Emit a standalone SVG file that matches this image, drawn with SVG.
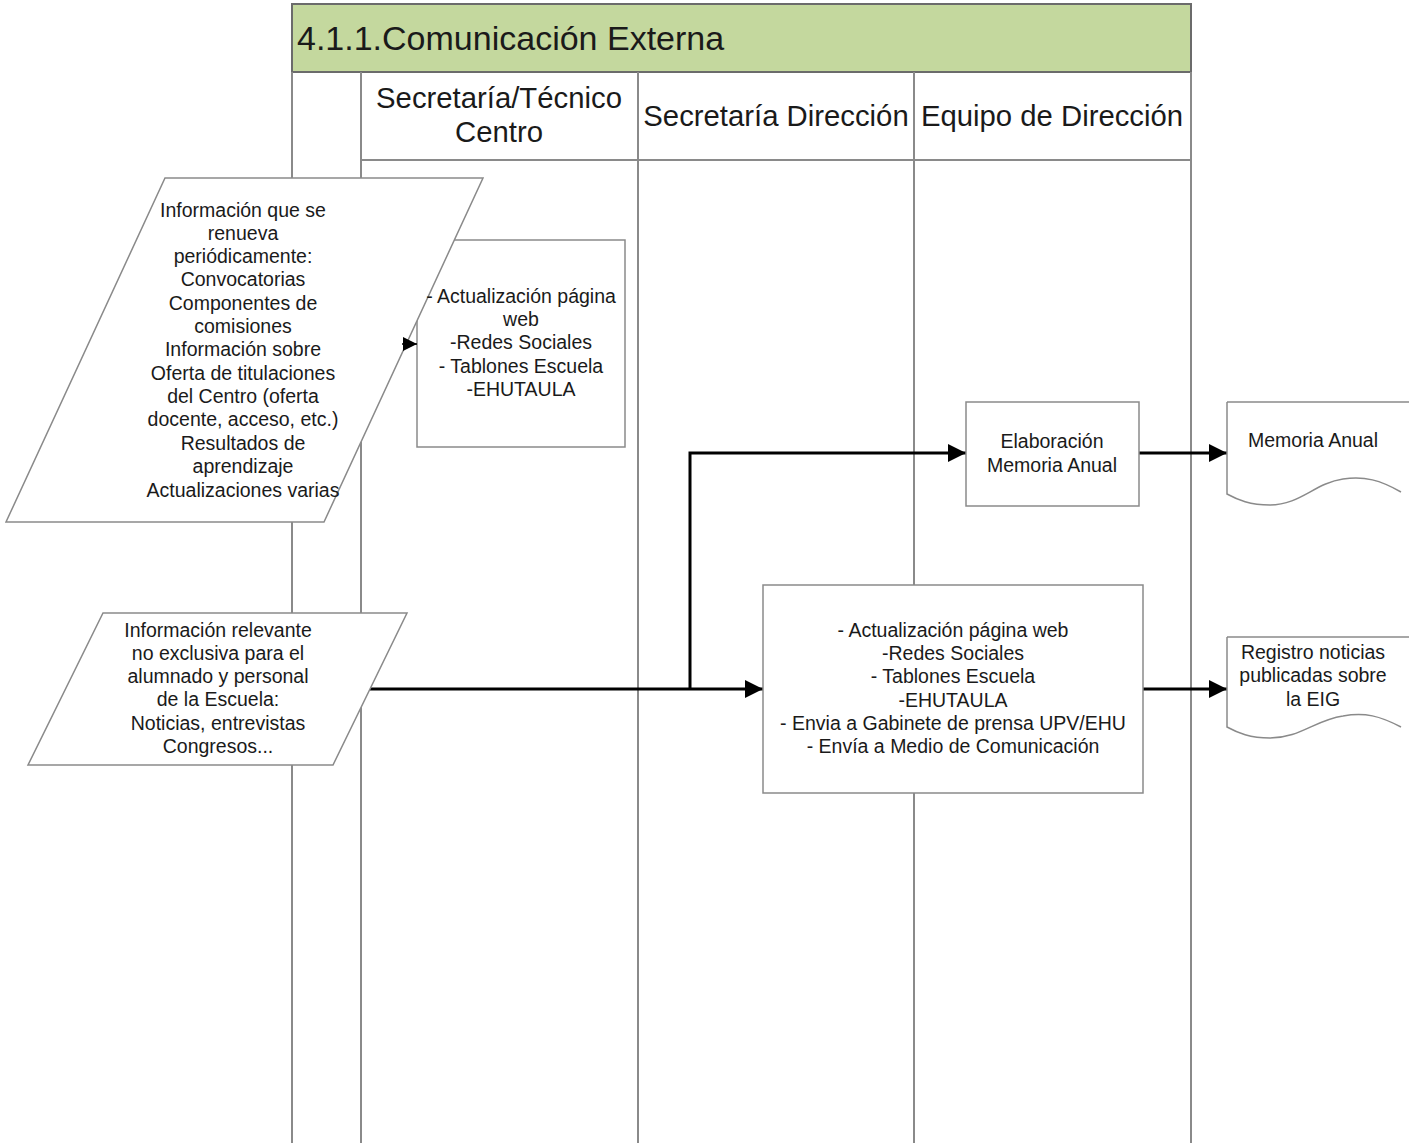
<svg xmlns="http://www.w3.org/2000/svg" width="1409" height="1143" viewBox="0 0 1409 1143">
<defs>
<style>
.lane{stroke:#8a8a8a;stroke-width:2;fill:none}
.shape{fill:#fff;stroke:#8a8a8a;stroke-width:1.5}
.t{font-family:"Liberation Sans",Arial,sans-serif;font-size:19.5px;fill:#1a1a1a;text-anchor:middle}
.h{font-family:"Liberation Sans",Arial,sans-serif;font-size:29.3px;fill:#1a1a1a;text-anchor:middle}
.conn{stroke:#000;stroke-width:3;fill:none}
</style>
<marker id="arr" viewBox="0 0 10 10" refX="10" refY="5" markerWidth="7" markerHeight="6" markerUnits="strokeWidth" orient="auto">
<path d="M0,0 L10,5 L0,10 Z" fill="#000"/>
</marker>
<marker id="arrs" viewBox="0 0 10 10" refX="10" refY="5" markerWidth="14" markerHeight="14" markerUnits="userSpaceOnUse" orient="auto">
<path d="M0,0 L10,5 L0,10 Z" fill="#000"/>
</marker>
</defs>
<rect width="1409" height="1143" fill="#fff"/>
<g id="pool">
<rect x="292" y="4" width="899" height="68" fill="#c4d89e" stroke="#6b6b6b" stroke-width="2"/>
<text x="297" y="50" font-family="'Liberation Sans',Arial,sans-serif" font-size="34" fill="#1a1a1a">4.1.1.Comunicación Externa</text>
<line class="lane" x1="292" y1="72" x2="292" y2="1143"/>
<line class="lane" x1="361" y1="72" x2="361" y2="1143"/>
<line class="lane" x1="638" y1="72" x2="638" y2="1143"/>
<line class="lane" x1="914" y1="72" x2="914" y2="1143"/>
<line class="lane" x1="1191" y1="72" x2="1191" y2="1143"/>
<line class="lane" x1="361" y1="160" x2="1191" y2="160"/>
<text class="h" x="499" y="108">Secretaría/Técnico</text>
<text class="h" x="499" y="142">Centro</text>
<text class="h" x="776" y="126">Secretaría Dirección</text>
<text class="h" x="1052" y="126">Equipo de Dirección</text>
</g>
<g id="connectors">
<line class="conn" x1="370" y1="689" x2="763" y2="689" marker-end="url(#arr)"/>
<polyline class="conn" points="690,689 690,453 966,453" marker-end="url(#arr)"/>
<line class="conn" x1="1139" y1="453" x2="1227" y2="453" marker-end="url(#arr)"/>
<line class="conn" x1="1143" y1="689" x2="1227" y2="689" marker-end="url(#arr)"/>
</g>
<g id="process1">
<rect class="shape" x="417" y="240" width="208" height="207"/>
</g>
<g id="input1">
<polygon class="shape" points="165,178 483,178 324,522 6,522"/>
<text class="t" x="243" y="217">Información que se</text>
<text class="t" x="243" y="240">renueva</text>
<text class="t" x="243" y="263">periódicamente:</text>
<text class="t" x="243" y="286">Convocatorias</text>
<text class="t" x="243" y="310">Componentes de</text>
<text class="t" x="243" y="333">comisiones</text>
<text class="t" x="243" y="356">Información sobre</text>
<text class="t" x="243" y="380">Oferta de titulaciones</text>
<text class="t" x="243" y="403">del Centro (oferta</text>
<text class="t" x="243" y="426">docente, acceso, etc.)</text>
<text class="t" x="243" y="450">Resultados de</text>
<text class="t" x="243" y="473">aprendizaje</text>
<text class="t" x="243" y="497">Actualizaciones varias</text>
</g>
<g id="process1-text">
<text class="t" x="521" y="303">- Actualización página</text>
<text class="t" x="521" y="326">web</text>
<text class="t" x="521" y="349">-Redes Sociales</text>
<text class="t" x="521" y="373">- Tablones Escuela</text>
<text class="t" x="521" y="396">-EHUTAULA</text>
</g>
<g id="arrow-small">
<line x1="402" y1="344" x2="417" y2="344" stroke="#000" stroke-width="1.5" marker-end="url(#arrs)"/>
</g>
<g id="input2">
<polygon class="shape" points="103,613 407,613 333,765 28,765"/>
<text class="t" x="218" y="637">Información relevante</text>
<text class="t" x="218" y="660">no exclusiva para el</text>
<text class="t" x="218" y="683">alumnado y personal</text>
<text class="t" x="218" y="706">de la Escuela:</text>
<text class="t" x="218" y="730">Noticias, entrevistas</text>
<text class="t" x="218" y="753">Congresos...</text>
</g>
<g id="elaboracion">
<rect class="shape" x="966" y="402" width="173" height="104"/>
<text class="t" x="1052" y="448">Elaboración</text>
<text class="t" x="1052" y="472">Memoria Anual</text>
</g>
<g id="memoria-doc">
<path class="shape" d="M1227,402 L1415,402 L1415,496 M1401,492 C1380,480 1365,476 1343,479 C1315,483 1300,505 1270,505 C1250,505 1238,500 1227,494 L1227,402"/>
<text class="t" x="1313" y="447">Memoria Anual</text>
</g>
<g id="registro-doc">
<path class="shape" d="M1227,637 L1415,637 M1401,727 C1380,716 1365,712 1343,716 C1315,720 1300,738 1270,738 C1250,738 1238,733 1227,727 L1227,637"/>
<text class="t" x="1313" y="659">Registro noticias</text>
<text class="t" x="1313" y="682">publicadas sobre</text>
<text class="t" x="1313" y="706">la EIG</text>
</g>
<g id="process2">
<rect class="shape" x="763" y="585" width="380" height="208"/>
<text class="t" x="953" y="637">- Actualización página web</text>
<text class="t" x="953" y="660">-Redes Sociales</text>
<text class="t" x="953" y="683">- Tablones Escuela</text>
<text class="t" x="953" y="707">-EHUTAULA</text>
<text class="t" x="953" y="730">- Envia a Gabinete de prensa UPV/EHU</text>
<text class="t" x="953" y="753">- Envía a Medio de Comunicación</text>
</g>
</svg>
